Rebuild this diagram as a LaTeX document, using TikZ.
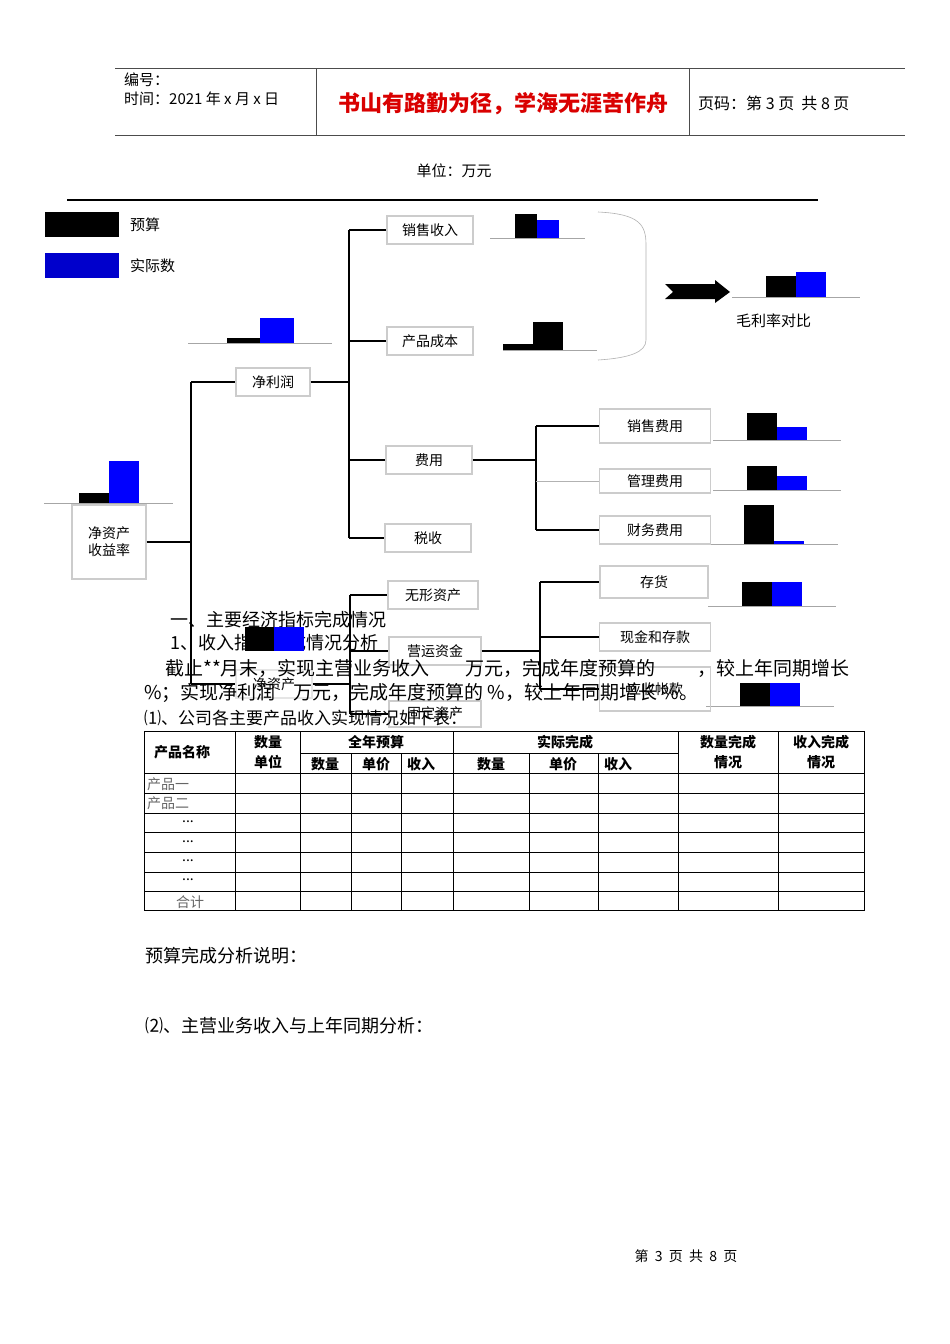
\documentclass[tikz,border=0pt]{standalone}
\usepackage{fontspec}
\setmainfont{Noto Sans CJK SC}
\begin{document}
\begin{tikzpicture}[x=1pt,y=-1pt,
 bx/.style={draw=black!20,line width=1.2pt,minimum width=#1,minimum height=28,inner sep=1pt,font=\fontsize{14}{17}\selectfont,fill=white},
 bx/.default=86,
 conn/.style={line width=1.3pt},
 bl/.style={draw=black!35,line width=0.5pt},
 tx/.style={anchor=west,inner sep=0,font=\fontsize{18}{21}\selectfont},
 sm/.style={anchor=west,inner sep=0,font=\fontsize{15}{18}\selectfont}]
\useasboundingbox (0,0) rectangle (950,1344);
\fill[white] (0,0) rectangle (950,1344);
% header
\draw[black!70,line width=0.8pt] (115,68)--(905,68) (115,135)--(905,135) (316,68)--(316,135) (689,68)--(689,135);
\node[sm] (h1) at (124,80) {编号：};
\node[sm] (h2) at (124,99) {时间：2021 年 x 月 x 日};
\node[inner sep=0,font=\fontsize{22}{25}\selectfont\bfseries,text=red!85!black] (h3) at (503,104) {书山有路勤为径，学海无涯苦作舟};
\node[sm,font=\fontsize{16}{19}\selectfont] (h4) at (698,103) {页码：第 3 页\ \ 共 8 页};
\node[inner sep=0,font=\fontsize{15}{18}\selectfont] (unit) at (454,171) {单位：万元};
\draw[line width=1.2pt] (67,200)--(818,200);
% legend
\fill[black] (45,212) rectangle (119,237);
\fill[blue!80!black] (45,253) rectangle (119,278);
\node[sm] (lg1) at (130,225) {预算};
\node[sm] (lg2) at (130,266) {实际数};
% mini charts
\newcommand{\mc}[9]{\draw[bl] (#1,#3)--(#2,#3); \fill[black] (#4,#6) rectangle (#5,#3); \fill[#9] (#5,#7) rectangle (#8,#3);}
\mc{490}{585}{238}{515}{537}{214}{220}{559}{blue}
\mc{503}{597}{350}{503}{533}{344}{322}{563}{black}
\mc{188}{332}{343}{227}{260}{338}{318}{294}{blue}
\mc{44}{173}{503}{79}{109}{493}{461}{139}{blue}
\mc{732}{860}{297}{766}{796}{276}{272}{826}{blue}
\mc{713}{841}{440}{747}{777}{413}{427}{807}{blue}
\mc{713}{841}{490}{747}{777}{466}{476}{807}{blue}
\mc{710}{838}{544}{744}{774}{505}{541}{804}{blue}
\mc{708}{836}{606}{742}{772}{582}{582}{802}{blue}
\mc{706}{834}{706}{740}{770}{683}{683}{800}{blue}
% brace and arrow
\draw[black!30,line width=0.6pt] (598,212) .. controls (640,214) and (646,225) .. (646,245) -- (646,340) .. controls (646,352) and (630,358) .. (598,360);
\fill[black] (665,284)--(715,284)--(715,280)--(730,292)--(715,303)--(715,299)--(665,299)--(673,292)--cycle;
\node[sm] (ml) at (736,321) {毛利率对比};
% boxes
\node[bx] (roe) at (109,542) [minimum height=74,minimum width=74,align=center] {净资产\\收益率};
\node[bx=74] (np) at (273,382) {净利润};
\node[bx] (sr) at (430,230) {销售收入};
\node[bx] (pc) at (430,341) {产品成本};
\node[bx] (fy) at (429,460) {费用};
\node[bx] (tax) at (428,538) {税收};
\node[bx=111,minimum height=34] (sf) at (655,426) {销售费用};
\node[bx=111,minimum height=24] (gf) at (655,481) {管理费用};
\node[bx=111] (cf) at (655,530) {财务费用};
\node[bx=90] (wx) at (433,595) {无形资产};
\node[bx=108,minimum height=32] (ch) at (654,582) {存货};
\node[bx=111] (xj) at (655,637) {现金和存款};
\coordinate (v0) at (191,0);
\coordinate (v1) at (349,0);
\coordinate (v2) at (536,0);
\coordinate (v3) at (350,0);
\coordinate (v4) at (540,0);
% connectors
\draw[conn] (roe.east) -- (roe.east -| v0);
\draw[conn] (v0 |- np.west) -- (v0 |- 0,684);
\draw[conn] (v0 |- np.west) -- (np.west);
\draw[conn] (np.east) -- (np.east -| v1);
\draw[conn] (v1 |- sr.west) -- (v1 |- tax.west);
\draw[conn] (v1 |- sr.west) -- (sr.west);
\draw[conn] (v1 |- pc.west) -- (pc.west);
\draw[conn] (v1 |- fy.west) -- (fy.west);
\draw[conn] (v1 |- tax.west) -- (tax.west);
\draw[conn] (fy.east) -- (fy.east -| v2);
\draw[conn] (v2 |- sf.west) -- (v2 |- cf.west);
\draw[conn] (v2 |- sf.west) -- (sf.west);
\draw[conn] (v2 |- cf.west) -- (cf.west);
\draw[black!30,line width=0.6pt] (v2 |- gf.west) -- (gf.west);
% body text
\node[tx] (t1) at (170,620) {一、主要经济指标完成情况};
\node[tx] (t2) at (170,643) {1、收入指标完成情况分析};
\fill[black] (245,627) rectangle (274,651); \fill[blue] (274,627) rectangle (304,651);
\node[bx=76,draw=black!10,fill=none] (na) at (274,684) {};
\node[inner sep=0,font=\fontsize{14}{17}\selectfont] (nal) at (274,684) {净资产};
\node[bx=92,fill=none] (yy) at (435,651) {营运资金};
\node[bx=92,fill=none,minimum height=26] (gd) at (435,714) {};
\node[inner sep=0,font=\fontsize{14}{17}\selectfont] (gdl) at (435,713) {固定资产};
\node[bx=111,fill=none,minimum height=44] (ys) at (655,689) {应收帐款};
\draw[conn] (v0 |- na.west) -- (na.west);
\draw[conn] (na.east) -- (na.east -| v3);
\draw[conn] (v3 |- wx.west) -- (v3 |- gd.west);
\draw[conn] (v3 |- wx.west) -- (wx.west);
\draw[conn] (v3 |- yy.west) -- (yy.west);
\draw[conn] (v3 |- gd.west) -- (gd.west);
\draw[conn] (yy.east) -- (yy.east -| v4);
\draw[conn] (v4 |- ch.west) -- (v4 |- ys.west);
\draw[conn] (v4 |- ch.west) -- (ch.west);
\draw[conn] (v4 |- xj.west) -- (xj.west);
\draw[conn] (v4 |- ys.west) -- (ys.west);
\node[tx,font=\fontsize{19}{22}\selectfont] (t3) at (165,668) {截止**月末，实现主营业务收入\hspace{36pt}万元，完成年度预算的\hspace{42pt}，较上年同期增长};
\node[tx,font=\fontsize{19}{22}\selectfont] (t4) at (144,693) {\%；实现净利润\hspace{18pt}万元，完成年度预算的 \%，较上年同期增长 \%。};
\node[tx,font=\fontsize{17}{20}\selectfont] (t5) at (144,718) {⑴、公司各主要产品收入实现情况如下表：};
% table
\draw[line width=1pt] (144,731) rectangle (864,910);
\foreach \y in {773,793,813,832,852,872,891} \draw[line width=0.8pt] (144,\y)--(864,\y);
\draw[line width=0.8pt] (300,753)--(678,753);
\foreach \x in {235,300,453,678,778} \draw[line width=0.8pt] (\x,731)--(\x,910);
\foreach \x in {351,401,529,598} \draw[line width=0.8pt] (\x,753)--(\x,910);
\begin{scope}[every node/.style={inner sep=0,font=\fontsize{14}{16}\selectfont\bfseries}]
\node (c1) at (182,752) {产品名称};
\node (c2) at (268,742) {数量}; \node (c2b) at (268,762) {单位};
\node (c3) at (376,742) {全年预算}; \node (c4) at (565,742) {实际完成};
\node (c5) at (728,742) {数量完成}; \node (c5b) at (728,762) {情况};
\node (c6) at (821,742) {收入完成}; \node (c6b) at (821,762) {情况};
\node (s1) at (325,764) {数量}; \node (s2) at (376,764) {单价}; \node (s3) at (421,764) {收入};
\node (s4) at (491,764) {数量}; \node (s5) at (563,764) {单价}; \node (s6) at (618,764) {收入};
\end{scope}
\begin{scope}[every node/.style={inner sep=0,font=\fontsize{14}{15}\selectfont,text=black!60}]
\node[anchor=west] (r1) at (147,784) {产品一};
\node[anchor=west] (r2) at (147,803) {产品二};
\node[text=black] (r3) at (188,822) {...}; \node[text=black] (r4) at (188,842) {...};
\node[text=black] (r5) at (188,861) {...}; \node[text=black] (r6) at (188,880) {...};
\node (r7) at (190,902) {合计};
\end{scope}
\node[tx] (t6) at (145,956) {预算完成分析说明：};
\node[tx] (t7) at (145,1026) {⑵、主营业务收入与上年同期分析：};
\node[inner sep=0,font=\fontsize{14}{16}\selectfont] (ft) at (686,1256) {第\ \ 3\ \ 页\ \ 共\ \ 8\ \ 页};
\end{tikzpicture}
\end{document}
